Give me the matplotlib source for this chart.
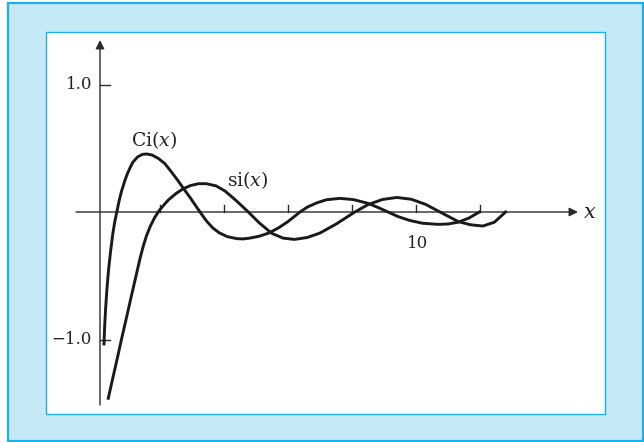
import matplotlib
matplotlib.use('Agg')
import matplotlib.pyplot as plt
from matplotlib.patches import Rectangle

# ---- data ----
ci_x = [0.25, 0.27, 0.30, 0.34, 0.39, 0.45, 0.52, 0.58, 0.65, 0.72, 0.80, 0.90, 0.98,
        1.07, 1.15, 1.30, 1.45, 1.58, 1.75, 1.95, 2.15, 2.37, 2.55, 2.73, 2.95, 3.10,
        3.25, 3.45, 3.65, 3.85, 4.10, 4.40, 4.60, 4.80, 5.10, 5.40, 5.70, 6.00, 6.375,
        6.60, 6.90, 7.20, 7.625, 8.05, 8.51, 8.80, 9.125, 9.45, 9.80, 10.20, 10.69,
        11.00, 11.32, 11.65, 11.98]
ci_y = [-1.035, -0.90, -0.76, -0.61, -0.46, -0.32, -0.18, -0.085, 0.0, 0.085, 0.165,
        0.245, 0.30, 0.35, 0.39, 0.432, 0.452, 0.455, 0.447, 0.42, 0.38, 0.31, 0.25,
        0.186, 0.11, 0.055, 0.0, -0.07, -0.125, -0.163, -0.193, -0.209, -0.211, -0.205,
        -0.19, -0.165, -0.125, -0.075, 0.0, 0.038, 0.072, 0.096, 0.107, 0.097, 0.067,
        0.037, 0.0, -0.037, -0.066, -0.088, -0.097, -0.094, -0.080, -0.048, 0.0]

si_x = [0.384, 0.50, 0.65, 0.80, 0.96, 1.10, 1.27, 1.38, 1.48, 1.58, 1.70, 1.83, 1.97,
        2.12, 2.26, 2.50, 2.73, 2.95, 3.20, 3.45, 3.75, 4.03, 4.40, 4.76, 5.10, 5.49,
        5.85, 6.20, 6.60, 7.00, 7.50, 8.09, 8.50, 8.95, 9.40, 9.85, 10.30, 10.75, 11.32,
        11.70, 12.09, 12.45, 12.80]
si_y = [-1.461, -1.33, -1.165, -0.995, -0.82, -0.665, -0.48, -0.36, -0.265, -0.185,
        -0.11, -0.045, 0.01, 0.055, 0.094, 0.145, 0.183, 0.207, 0.222, 0.222, 0.205,
        0.165, 0.085, 0.0, -0.085, -0.167, -0.205, -0.215, -0.20, -0.165, -0.095, 0.0,
        0.058, 0.098, 0.114, 0.10, 0.06, 0.0, -0.075, -0.10, -0.11, -0.08, 0.0]

xticks = [2, 4, 6, 8, 10, 12]
xtick_label_values = [10]
xtick_label_texts = ["10"]
yticks = [1.0, -1.0]
ytick_labels = ["1.0", "\u22121.0"]
curve_labels = [r"Ci$(x)$", r"si$(x)$"]

# ---- layout ----
W, H = 644, 442
X0, SX, Y0, SY = 96.0, 32.0, 212.0, 127.5


def dx(px):
    return (px - X0) / SX


def dy(py):
    return (Y0 - py) / SY


plt.rcParams['font.family'] = ['DejaVu Serif']
plt.rcParams['mathtext.fontset'] = 'dejavuserif'

fig = plt.figure(figsize=(W / 100, H / 100), dpi=100)
ax = fig.add_axes([0, 0, 1, 1])
ax.set_xlim(dx(0), dx(W))
ax.set_ylim(dy(H), dy(0))
ax.axis('off')

blue_edge = '#1ab0ea'
ax.add_patch(Rectangle((8 / W, 1 - 441 / H), (643 - 8) / W, (441 - 3) / H,
                       transform=ax.transAxes, fc='#c6e9f8', ec=blue_edge, lw=1.6,
                       clip_on=False, zorder=0))
ax.add_patch(Rectangle((46 / W, 1 - 414 / H), (605 - 46) / W, (414 - 32) / H,
                       transform=ax.transAxes, fc='white', ec=blue_edge, lw=1.0,
                       clip_on=False, zorder=1))

axis_col = '#2a2a2a'
ax.annotate('', xy=(dx(578), 0), xytext=(dx(76), 0),
            arrowprops=dict(arrowstyle='-|>', color=axis_col, lw=1.0,
                            mutation_scale=13, shrinkA=0, shrinkB=0), zorder=3)
ax.annotate('', xy=(dx(100), dy(40)), xytext=(dx(100), dy(405)),
            arrowprops=dict(arrowstyle='-|>', color=axis_col, lw=1.0,
                            mutation_scale=13, shrinkA=0, shrinkB=0), zorder=3)

for t in xticks:
    ax.plot([t, t], [0, 7 / SY], color=axis_col, lw=1.0, zorder=3)
for v in yticks:
    ax.plot([dx(100), dx(110)], [v, v], color=axis_col, lw=1.0, zorder=3)

txt_col = '#222222'
for v, lab in zip(yticks, ytick_labels):
    ax.text(dx(92), v, lab, ha='right', va='center', fontsize=12, color=txt_col)
for v, lab in zip(xtick_label_values, xtick_label_texts):
    ax.text(v + 2 / SX, dy(243), lab, ha='center', va='center', fontsize=12,
            color=txt_col)
ax.text(dx(590), 0, r"$x$", ha='center', va='center', fontsize=15, color=txt_col)

ax.plot(ci_x, ci_y, color='#1a1a1a', lw=2.1, zorder=4, solid_joinstyle='round')
ax.plot(si_x, si_y, color='#1a1a1a', lw=2.1, zorder=4, solid_joinstyle='round')

ax.text(dx(154), dy(140), curve_labels[0], ha='center', va='center', fontsize=13.5,
        color=txt_col)
ax.text(dx(248), dy(180), curve_labels[1], ha='center', va='center', fontsize=13.5,
        color=txt_col)

fig.savefig('out.png', dpi=100)
